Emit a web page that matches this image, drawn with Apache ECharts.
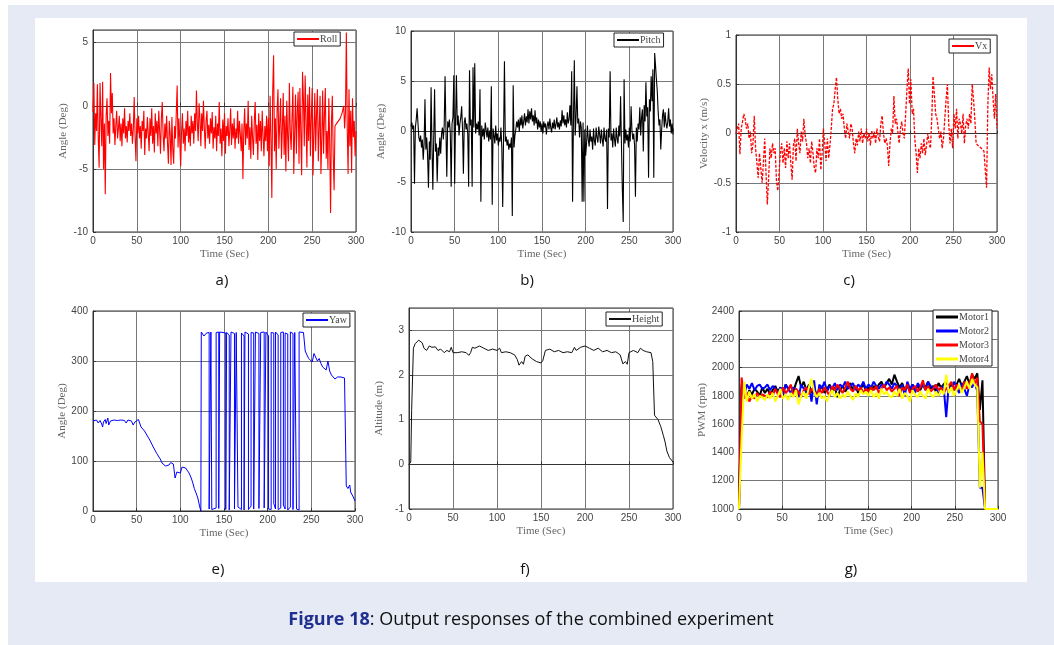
<!DOCTYPE html>
<html>
<head>
<meta charset="utf-8">
<script src="https://cdn.jsdelivr.net/npm/echarts@6/dist/echarts.min.js"></script>
<style>
  html, body { margin: 0; padding: 0; background: #fff; }
  #main { width: 1054px; height: 645px; }
</style>
</head>
<body>
<div id="main"></div>
<script>
// sampling step (sec) of the hand-read series
var stepAngle = 1;
var stepVx = 1.5;
var stepMotor = 3;

// a) Roll (deg), one value per second
var roll = [
  -0.5, 1.8, -3.1, -0.6, -2.0, 1.7, -2.6, -4.9, 1.8, -1.0,
  -3.2, 1.9, -5.0, -1.4, -7.0, -0.8, 0.6, -2.4, -1.2, -3.0,
  2.6, -0.6, 1.0, -2.2, -1.0, -3.1, -1.6, -0.4, -2.6, -1.8,
  -0.8, -2.8, -1.4, -3.2, -1.0, -2.2, -0.2, -2.6, -1.6, -2.9,
  -1.2, -2.0, -0.6, -2.4, -1.4, -3.0, -1.8, 0.7, -2.4, -4.4,
  -1.0, -2.2, -0.8, -2.6, -1.6, -3.4, -1.2, -2.0, -0.4, -3.9,
  -1.8, -2.6, -0.9, -2.2, -3.6, -1.0, -2.4, -0.2, -3.0, -1.6,
  -3.7, -0.6, -2.2, -1.2, -3.2, -0.4, -2.0, -3.8, -1.0, 0.3,
  -2.4, -3.6, -1.4, -2.6, -0.8, -3.0, -4.6, -1.2, -2.2, -4.7,
  -0.9, -3.4, -4.6, -1.6, -2.6, -0.6, 1.6, -3.3, -1.0, -2.8,
  -4.8, -2.1, -0.6, -3.0, -1.8, -3.6, -1.2, -2.4, -0.4, -2.9,
  -1.6, -3.2, -0.8, -2.2, -1.2, -3.0, -0.6, -2.0, 1.2, -1.4,
  -2.8, 0.2, -1.0, -3.2, -0.6, -2.0, 0.4, -1.8, -3.4, -1.2,
  -0.4, -2.6, -1.5, -3.0, -1.0, -2.2, -0.5, -3.4, -1.7, -2.6,
  -0.8, -3.6, -1.4, -2.4, 0.3, -3.0, -1.8, -4.0, -1.1, -2.8,
  -0.6, -3.8, -1.6, -2.4, -1.0, -3.2, -2.0, -0.2, -3.1, -1.4,
  -2.6, -1.0, -3.4, -1.8, -2.6, -0.4, -3.0, -1.2, -2.2, -3.6,
  -1.4, -5.8, -2.0, -0.2, -3.1, -1.4, -2.6, 0.4, -3.5, -1.7,
  -4.2, -0.8, -2.5, -3.9, -1.2, 0.3, -3.0, -1.5, -4.3, -0.6,
  -2.8, -1.2, -3.6, -0.4, -2.4, -4.0, -1.6, -2.8, -0.8, -3.6,
  -1.0, -4.8, 0.8, -2.6, -7.3, 1.2, 4.0, -3.6, -1.0, -5.0,
  -0.4, 1.3, -3.4, -1.4, 0.6, -4.2, -1.8, 1.0, -3.9, -0.8,
  -5.2, 0.4, -2.4, -4.4, 1.8, -2.0, -3.5, -1.0, 1.5, -5.4,
  -2.2, 0.9, -3.8, -0.5, 1.1, -4.6, 1.4, -2.0, -5.5, 2.7,
  0.6, -3.2, 2.4, -1.2, -4.9, 0.9, -2.8, 1.5, -4.0, -1.0,
  1.4, -5.5, -2.2, 1.0, -3.6, -0.6, 1.3, -4.4, -1.8, 0.8,
  -5.4, -2.6, 1.2, -3.8, -0.8, 1.4, -4.2, -2.0, -5.0, 0.6,
  -3.0, -8.5, -1.2, 0.8, -4.0, -6.7, -1.6, -1.5, -1.4, -1.3,
  -1.2, -1.1, -1.0, -0.8, -0.6, -0.3, 0.0, -1.8, -0.5, 5.8,
  -1.8, -5.4, 1.3, -3.2, -0.4, -5.3, 0.6, -2.5, -1.2, -4.0,
  -2.0
];

// b) Pitch (deg), one value per second
var pitch = [
  0.5, 0.9, 0.2, 0.6, -5.2, 0.4, 1.2, 2.3, 0.8, -0.6,
  -1.0, -0.4, -1.6, -0.8, -2.8, -1.2, 3.2, -1.8, -0.6, -2.4,
  -5.6, -1.0, -2.8, 4.4, -1.4, -5.8, -0.8, 4.2, -2.0, -1.2,
  -5.0, -1.6, -2.4, -0.6, -2.2, -0.2, 0.4, -0.8, 0.6, 5.5,
  0.2, -4.5, 1.0, 0.4, 1.2, -0.2, -5.5, 0.8, 1.4, 5.6,
  -5.2, 1.0, 5.6, 0.6, 1.6, -0.4, 0.8, 1.4, 2.5, 0.2,
  -4.2, 0.9, 1.4, 0.2, 0.8, -0.3, -5.5, 6.1, 0.6, 1.2,
  -5.5, 6.4, 0.4, 6.8, -0.2, 0.8, 0.2, 1.0, -0.4, 4.2,
  -7.0, 0.6, -0.5, 0.3, -0.8, 0.9, 0.2, -0.6, 0.4, -1.0,
  0.1, -0.8, 4.5, -7.3, 0.3, -0.4, -1.2, 0.6, -0.9, -0.2,
  -1.4, -0.6, -1.0, 0.4, -1.6, -7.5, -0.4, 7.0, -1.0, -0.5,
  -1.4, -0.8, -1.8, -1.2, -1.6, -0.6, -8.4, 4.6, -1.6, -0.4,
  0.2, 1.0, 0.4, 1.2, 0.0, 1.4, 0.6, 1.6, 0.3, 1.0,
  1.8, 0.6, 1.5, 0.9, 2.2, 0.8, 2.0, 1.2, 2.3, 1.0,
  1.6, 0.6, 2.1, 0.8, 1.4, 0.2, 1.2, 0.4, 1.0, 0.0,
  0.8, -0.2, 1.0, 0.4, 0.8, -0.3, 0.6, 1.0, 0.2, 1.3,
  0.4, -0.1, 0.9, 0.3, 1.2, 0.2, 0.7, 1.4, 0.4, 0.9,
  0.2, 1.1, 0.5, 2.1, 0.8, 1.6, 0.6, 1.2, 0.4, 1.9,
  0.8, 1.2, 2.6, 0.6, 6.0, -7.0, 1.0, 7.1, -0.4, 1.5,
  4.5, 0.8, 1.3, -0.6, 1.0, 0.4, -7.0, 0.9, -7.0, 0.2,
  -2.4, -1.2, 0.6, -0.8, -1.5, 0.2, -1.0, -0.5, -1.8, 0.3,
  -0.9, -1.4, 0.4, -0.6, -1.1, 0.5, -0.3, -1.2, 0.2, -0.8,
  -1.5, 0.4, -0.7, -1.0, 0.2, -7.7, 0.3, -0.6, 6.0, -0.9,
  -0.2, -1.6, 0.3, -0.8, -1.5, 0.4, -0.7, -1.2, 0.6, -0.5,
  3.5, -1.4, -5.8, -9.0, 5.2, -1.2, 0.2, -0.9, -0.3, -1.6,
  0.4, -1.0, 2.5, 0.1, -0.8, -0.2, -1.4, -6.5, 0.4, -1.0,
  0.8, 0.2, 2.4, -0.4, 1.4, 2.2, -2.0, 2.6, 1.0, 4.9,
  1.5, 2.4, -4.6, 3.2, 2.0, 5.5, 3.0, 6.2, -4.6, 7.8,
  6.6, 5.2, 4.0, 2.0, 0.6, 1.2, -1.8, 0.2, 1.6, 2.2,
  0.4, 1.9, 0.8, 0.3, 1.0, 2.3, 0.5, 1.2, -0.2, 0.8,
  -0.3
];

// c) Velocity x (m/s), one value per 1.5 s
var vx = [
  0.0, -0.02, 0.1, -0.21, 0.05, 0.12, 0.2, 0.15, 0.05, 0.1,
  -0.05, 0.02, -0.2, -0.1, 0.18, -0.15, -0.3, -0.45, -0.2, -0.35,
  -0.5, -0.3, -0.05, -0.4, -0.72, -0.45, -0.15, -0.25, -0.1, -0.2,
  -0.15, -0.48, -0.58, -0.4, -0.2, -0.1, -0.3, -0.15, -0.35, -0.08,
  -0.25, -0.1, -0.3, -0.47, -0.12, -0.05, -0.28, 0.05, -0.1, -0.2,
  0.02, -0.08, 0.15, -0.02, -0.1, -0.25, -0.15, -0.3, -0.08, -0.2,
  -0.35, -0.4, -0.15, -0.25, -0.05, -0.37, -0.2, 0.05, -0.1, -0.28,
  -0.05, -0.25, -0.12, 0.05, 0.25, 0.3, 0.45, 0.57, 0.35, 0.2,
  0.25, 0.15, 0.2, 0.05, -0.05, 0.1, 0.02, -0.05, 0.1, 0.05,
  -0.1, -0.2, -0.05, -0.12, 0.02, -0.08, 0.05, -0.1, 0.0, -0.05,
  0.05, -0.08, 0.0, -0.12, 0.03, -0.05, 0.02, -0.1, 0.05, -0.03,
  -0.08, 0.1, 0.18, 0.0, -0.1, -0.05, -0.12, -0.33, -0.1, 0.05,
  0.0, 0.38, 0.1, 0.15, 0.02, -0.1, 0.05, 0.12, 0.0, -0.05,
  0.2, 0.45, 0.66, 0.3, 0.55, 0.2, 0.25, -0.05, -0.2, -0.4,
  -0.15, -0.25, -0.1, -0.2, -0.05, -0.22, -0.12, 0.0, -0.1, -0.15,
  0.15, 0.58, 0.4, 0.2, 0.15, 0.05, -0.05, 0.02, -0.15, -0.05,
  0.15, 0.35, 0.5, 0.1, -0.1, 0.05, -0.15, 0.2, 0.05, 0.25,
  -0.05, 0.15, 0.1, 0.0, 0.2, -0.1, 0.08, 0.15, 0.05, 0.2,
  0.1, 0.5, 0.35, 0.15, -0.1, -0.12, -0.13, -0.14, -0.15, -0.17,
  -0.18, -0.2, -0.55, 0.3, 0.67, 0.45, 0.6, 0.35, 0.15, 0.4,
  0.05
];

// e) Yaw (deg), [time, angle]
var yaw = [
  [0, 180], [2, 178], [4, 182], [6, 176], [8, 181], [10, 174], [11, 168], [12, 178],
  [14, 183], [15, 175], [17, 186], [18, 172], [20, 180], [22, 176], [24, 182], [26, 178],
  [28, 181], [30, 177], [32, 182], [34, 179], [36, 181], [38, 176], [40, 182], [42, 178],
  [44, 180], [46, 172], [48, 178], [50, 176], [52, 183], [53, 178], [55, 168], [57, 172],
  [59, 160], [61, 158], [63, 148], [65, 142], [67, 138], [69, 128], [71, 124], [73, 115],
  [75, 118], [77, 104], [79, 96], [81, 92], [83, 90], [85, 94], [87, 92], [89, 97],
  [91, 100], [92, 94], [94, 66], [96, 78], [98, 82], [100, 76], [102, 88], [104, 84],
  [106, 86], [108, 82], [110, 76], [112, 68], [114, 58], [116, 45], [118, 36], [120, 26],
  [122, 10], [123.5, 0],
  [124, 358], [127, 350], [130, 356], [133, 357], [133, 4], [135, 2], [135, 358], [136, 356],
  [136, 3], [141, 6], [141, 357], [144, 358], [144, 5], [145, 2], [145, 358], [152, 356],
  [152, 3], [153, 4], [153, 357], [156, 352], [156, 2], [158, 6], [158, 358], [162, 355],
  [162, 4], [164, 2], [164, 357], [166, 358], [166, 8], [170, 3], [170, 356], [173, 350],
  [173, 2], [174, 5], [174, 358], [178, 354], [178, 3], [181, 10], [181, 357], [184, 356],
  [184, 4], [186, 2], [186, 358], [190, 355], [190, 5], [192, 3], [192, 357], [196, 358],
  [196, 6], [198, 2], [198, 358], [201, 350], [201, 4], [204, 3], [204, 357], [207, 356],
  [207, 15], [209, 4], [209, 358], [212, 352], [212, 3], [215, 6], [215, 357], [218, 358],
  [218, 12], [220, 4], [220, 356], [223, 354], [223, 2], [226, 8], [226, 358], [229, 355],
  [229, 3], [231, 5], [231, 357], [233, 358], [233, 4], [236, 2], [236, 358], [241, 357],
  [243, 320], [245, 312], [247, 305], [249, 308], [251, 298], [253, 315], [255, 312], [257, 300],
  [259, 305], [261, 295], [263, 288], [265, 292], [267, 282], [269, 300], [271, 280], [273, 272],
  [275, 270], [277, 264], [280, 268], [284, 268], [288, 266], [290, 50], [292, 45], [294, 52],
  [295, 38], [297, 42], [298, 28], [300, 20]
];

// f) Height (m), [time, altitude]
var height = [
  [0, 0], [2, 0.05], [3, 1.2], [5, 2.6], [7, 2.7], [9, 2.68], [11, 2.78], [13, 2.8],
  [15, 2.72], [17, 2.6], [20, 2.55], [23, 2.65], [26, 2.62], [30, 2.63], [33, 2.55], [36, 2.58],
  [40, 2.5], [43, 2.55], [46, 2.52], [48, 2.62], [50, 2.5], [55, 2.5], [60, 2.52], [65, 2.5],
  [68, 2.44], [70, 2.5], [72, 2.62], [75, 2.6], [80, 2.65], [85, 2.6], [90, 2.55], [95, 2.58],
  [100, 2.55], [103, 2.6], [105, 2.5], [110, 2.52], [115, 2.5], [120, 2.45], [123, 2.35], [125, 2.22],
  [128, 2.3], [130, 2.24], [132, 2.42], [135, 2.45], [140, 2.36], [145, 2.3], [150, 2.27], [152, 2.32],
  [155, 2.55], [160, 2.58], [165, 2.52], [170, 2.55], [175, 2.5], [180, 2.52], [185, 2.5], [188, 2.62],
  [190, 2.55], [195, 2.62], [200, 2.65], [205, 2.6], [210, 2.55], [215, 2.6], [220, 2.52], [225, 2.55],
  [230, 2.5], [235, 2.52], [240, 2.45], [243, 2.25], [246, 2.3], [248, 2.24], [250, 2.5], [255, 2.55],
  [260, 2.5], [263, 2.6], [266, 2.55], [270, 2.52], [275, 2.5], [277, 2.3], [279, 1.1], [283, 1.0],
  [286, 0.85], [289, 0.65], [291, 0.5], [293, 0.3], [296, 0.15], [300, 0.05]
];

// g) Motor PWM, one value per 3 s
var motor1 = [
  1000, 1880, 1820, 1790, 1840, 1810, 1850, 1830, 1800, 1860,
  1820, 1850, 1810, 1840, 1870, 1830, 1860, 1820, 1880, 1850,
  1870, 1830, 1890, 1940, 1860, 1900, 1840, 1880, 1820, 1860,
  1800, 1840, 1870, 1820, 1850, 1880, 1830, 1860, 1790, 1840,
  1870, 1830, 1860, 1890, 1840, 1870, 1820, 1850, 1880, 1840,
  1860, 1830, 1870, 1850, 1880, 1900, 1860, 1890, 1920, 1880,
  1950, 1900, 1860, 1890, 1840, 1870, 1830, 1880, 1850, 1870,
  1840, 1880, 1860, 1900, 1850, 1870, 1830, 1890, 1860, 1880,
  1900, 1860, 1890, 1840, 1880, 1920, 1870, 1900, 1940, 1880,
  1950, 1920, 1960, 1700, 1910, 1000, 1000, 1000, 1000, 1000, 1000
];
var motor2 = [
  1000, 1860, 1800, 1880, 1850, 1890, 1840, 1870, 1880, 1850,
  1860, 1880, 1840, 1870, 1850, 1820, 1860, 1800, 1880, 1850,
  1820, 1860, 1840, 1790, 1880, 1850, 1820, 1870, 1760, 1910,
  1740, 1880, 1850, 1900, 1830, 1870, 1850, 1890, 1840, 1880,
  1860, 1900, 1850, 1870, 1890, 1840, 1880, 1860, 1900, 1850,
  1880, 1860, 1900, 1870, 1850, 1880, 1860, 1900, 1880, 1850,
  1890, 1870, 1840, 1880, 1800, 1900, 1850, 1880, 1820, 1890,
  1860, 1880, 1840, 1900, 1870, 1850, 1880, 1800, 1850, 1870,
  1650, 1880, 1840, 1900, 1860, 1820, 1890, 1850, 1800, 1880,
  1860, 1900, 1830, 1150, 1150, 1000, 1000, 1000, 1000, 1000, 1000
];
var motor3 = [
  1000, 1930, 1780, 1820, 1760, 1800, 1780, 1820, 1790, 1810,
  1800, 1790, 1830, 1800, 1850, 1810, 1790, 1860, 1820, 1840,
  1880, 1800, 1850, 1830, 1790, 1840, 1860, 1810, 1850, 1830,
  1800, 1850, 1820, 1860, 1830, 1800, 1870, 1840, 1880, 1850,
  1820, 1860, 1900, 1850, 1830, 1870, 1840, 1860, 1820, 1850,
  1830, 1860, 1840, 1870, 1820, 1850, 1880, 1840, 1860, 1830,
  1850, 1870, 1800, 1860, 1840, 1880, 1820, 1850, 1870, 1830,
  1860, 1910, 1840, 1870, 1830, 1850, 1880, 1840, 1860, 1820,
  1850, 1870, 1900, 1840, 1880, 1860, 1830, 1900, 1850, 1880,
  1960, 1880, 1930, 1620, 1600, 1000, 1000, 1000, 1000, 1000, 1000
];
var motor4 = [
  1000, 1500, 1900, 1760, 1830, 1780, 1810, 1760, 1800, 1790,
  1770, 1810, 1780, 1820, 1760, 1800, 1850, 1780, 1810, 1770,
  1820, 1790, 1840, 1740, 1800, 1830, 1780, 1860, 1920, 1830,
  1790, 1820, 1780, 1800, 1760, 1810, 1840, 1790, 1820, 1780,
  1810, 1790, 1830, 1800, 1770, 1820, 1790, 1840, 1810, 1830,
  1800, 1840, 1790, 1820, 1780, 1850, 1810, 1830, 1800, 1790,
  1830, 1800, 1850, 1780, 1820, 1800, 1760, 1840, 1810, 1790,
  1830, 1800, 1780, 1850, 1810, 1790, 1830, 1800, 1840, 1810,
  1950, 1820, 1860, 1800, 1840, 1880, 1820, 1860, 1900, 1850,
  1920, 1880, 1860, 1150, 1400, 1000, 1000, 1000, 1000, 1000, 1000
];

function withTime(values, step) {
    return values.map(function (v, i) { return [i * step, v]; });
}

var labelFont = 'Liberation Sans';
var serifFont = 'Liberation Serif';

var panels = [
    { left: 93,  top: 30,  width: 263, height: 202, min: -10, max: 6,    interval: 5,   yName: 'Angle (Deg)',      tag: 'a)' },
    { left: 411, top: 31,  width: 262, height: 201, min: -10, max: 10,   interval: 5,   yName: 'Angle (Deg)',      tag: 'b)' },
    { left: 736, top: 35,  width: 261, height: 197, min: -1,  max: 1,    interval: 0.5, yName: 'Velocity x (m/s)', tag: 'c)' },
    { left: 93,  top: 311, width: 262, height: 200, min: 0,   max: 400,  interval: 100, yName: 'Angle (Deg)',      tag: 'e)' },
    { left: 409, top: 308, width: 264, height: 201, min: -1,  max: 3.5,  interval: 1,   yName: 'Altitude (m)',     tag: 'f)' },
    { left: 739, top: 311, width: 259, height: 198, min: 1000, max: 2400, interval: 200, yName: 'PWM (rpm)',       tag: 'g)' }
];

var grids = [], xAxes = [], yAxes = [];
panels.forEach(function (p, k) {
    grids.push({
        left: p.left, top: p.top, width: p.width, height: p.height,
        show: true, backgroundColor: '#fff', borderColor: '#333', borderWidth: 1
    });
    xAxes.push({
        type: 'value', gridIndex: k, min: 0, max: 300, interval: 50,
        name: 'Time (Sec)', nameLocation: 'middle', nameGap: 17,
        nameTextStyle: { fontFamily: serifFont, fontSize: 11, color: '#666' },
        axisLine: { show: true, lineStyle: { color: '#333' } },
        axisTick: { show: true, inside: true, length: 3, lineStyle: { color: '#333' } },
        axisLabel: { fontFamily: labelFont, fontSize: 10, color: '#444', margin: 4 },
        splitLine: { show: true, lineStyle: { color: '#777', width: 1 } }
    });
    yAxes.push({
        type: 'value', gridIndex: k, min: p.min, max: p.max, interval: p.interval,
        name: p.yName, nameLocation: 'middle', nameGap: p.min === 1000 ? 30 : 24,
        nameTextStyle: { fontFamily: serifFont, fontSize: 11, color: '#666' },
        axisLine: { show: true, onZero: false, lineStyle: { color: '#333' } },
        axisTick: { show: true, inside: true, length: 3, lineStyle: { color: '#333' } },
        axisLabel: {
            fontFamily: labelFont, fontSize: 10, color: '#444', margin: 5,
            showMaxLabel: !(p.max === 6 || p.max === 3.5),
            formatter: function (v) { return String(v); }
        },
        splitLine: { show: true, lineStyle: { color: '#777', width: 1 } }
    });
});

function lineSeries(name, k, data, color, width, dashed) {
    return {
        name: name, type: 'line', xAxisIndex: k, yAxisIndex: k,
        data: data, showSymbol: false, symbol: 'none',
        lineStyle: { color: color, width: width, type: dashed ? [3, 1.5] : 'solid' },
        itemStyle: { color: color },
        emphasis: { disabled: true }
    };
}

var series = [
    lineSeries('Roll', 0, withTime(roll, stepAngle), '#ff0000', 1.1),
    lineSeries('Pitch', 1, withTime(pitch, stepAngle), '#000000', 1.1),
    lineSeries('Vx', 2, withTime(vx, stepVx), '#ff0000', 1.3, true),
    lineSeries('Yaw', 3, yaw, '#0000ff', 1),
    lineSeries('Height', 4, height, '#111111', 1),
    lineSeries('Motor1', 5, withTime(motor1, stepMotor), '#000000', 2),
    lineSeries('Motor2', 5, withTime(motor2, stepMotor), '#0000ff', 2),
    lineSeries('Motor3', 5, withTime(motor3, stepMotor), '#ff0000', 2),
    lineSeries('Motor4', 5, withTime(motor4, stepMotor), '#ffff00', 2)
];

function legendBox(names, left, top, vertical) {
    return {
        data: names, left: left, top: top, orient: vertical ? 'vertical' : 'horizontal',
        icon: 'rect', itemWidth: 22, itemHeight: vertical ? 3 : 2, itemGap: vertical ? 4 : 1,
        padding: [2, 3, 2, 3], backgroundColor: '#fff', borderColor: '#222', borderWidth: 1,
        selectedMode: false,
        textStyle: { fontFamily: serifFont, fontSize: 10, color: '#444', padding: [0, 0, 0, -4] }
    };
}

var legends = [
    legendBox(['Roll'], 294, 32),
    legendBox(['Pitch'], 614, 33),
    legendBox(['Vx'], 949, 39),
    legendBox(['Yaw'], 303, 313),
    legendBox(['Height'], 606, 312),
    legendBox(['Motor1', 'Motor2', 'Motor3', 'Motor4'], 933, 310, true)
];

var graphics = [
    { type: 'rect', shape: { x: 8, y: 5, width: 1046, height: 640 }, style: { fill: '#e6eaf5' }, z: -10, silent: true },
    { type: 'rect', shape: { x: 35, y: 18, width: 992, height: 564 }, style: { fill: '#ffffff' }, z: -9, silent: true },
    {
        type: 'text', x: 531, y: 620, z: 10,
        style: {
            text: '{b|Figure 18}{n|: Output responses of the combined experiment}',
            align: 'center', verticalAlign: 'middle',
            rich: {
                b: { fontFamily: 'Open Sans', fontWeight: 'bold', fontSize: 18, fill: '#1f2f8f' },
                n: { fontFamily: 'Open Sans', fontSize: 18, fill: '#111' }
            }
        }
    }
];
var tagPos = [[222, 281], [527, 281], [849, 281], [218, 570], [525, 570], [851, 570]];
panels.forEach(function (p, k) {
    graphics.push({
        type: 'text', x: tagPos[k][0], y: tagPos[k][1], z: 10,
        style: { text: p.tag, align: 'center', verticalAlign: 'middle', fontFamily: 'Open Sans', fontSize: 15, fill: '#111' }
    });
});

var myChart = echarts.init(document.getElementById('main'));
var option = {
    animation: false,
    backgroundColor: '#fff',
    grid: grids,
    xAxis: xAxes,
    yAxis: yAxes,
    legend: legends,
    graphic: graphics,
    series: series
};
myChart.setOption(option);
</script>
</body>
</html>
